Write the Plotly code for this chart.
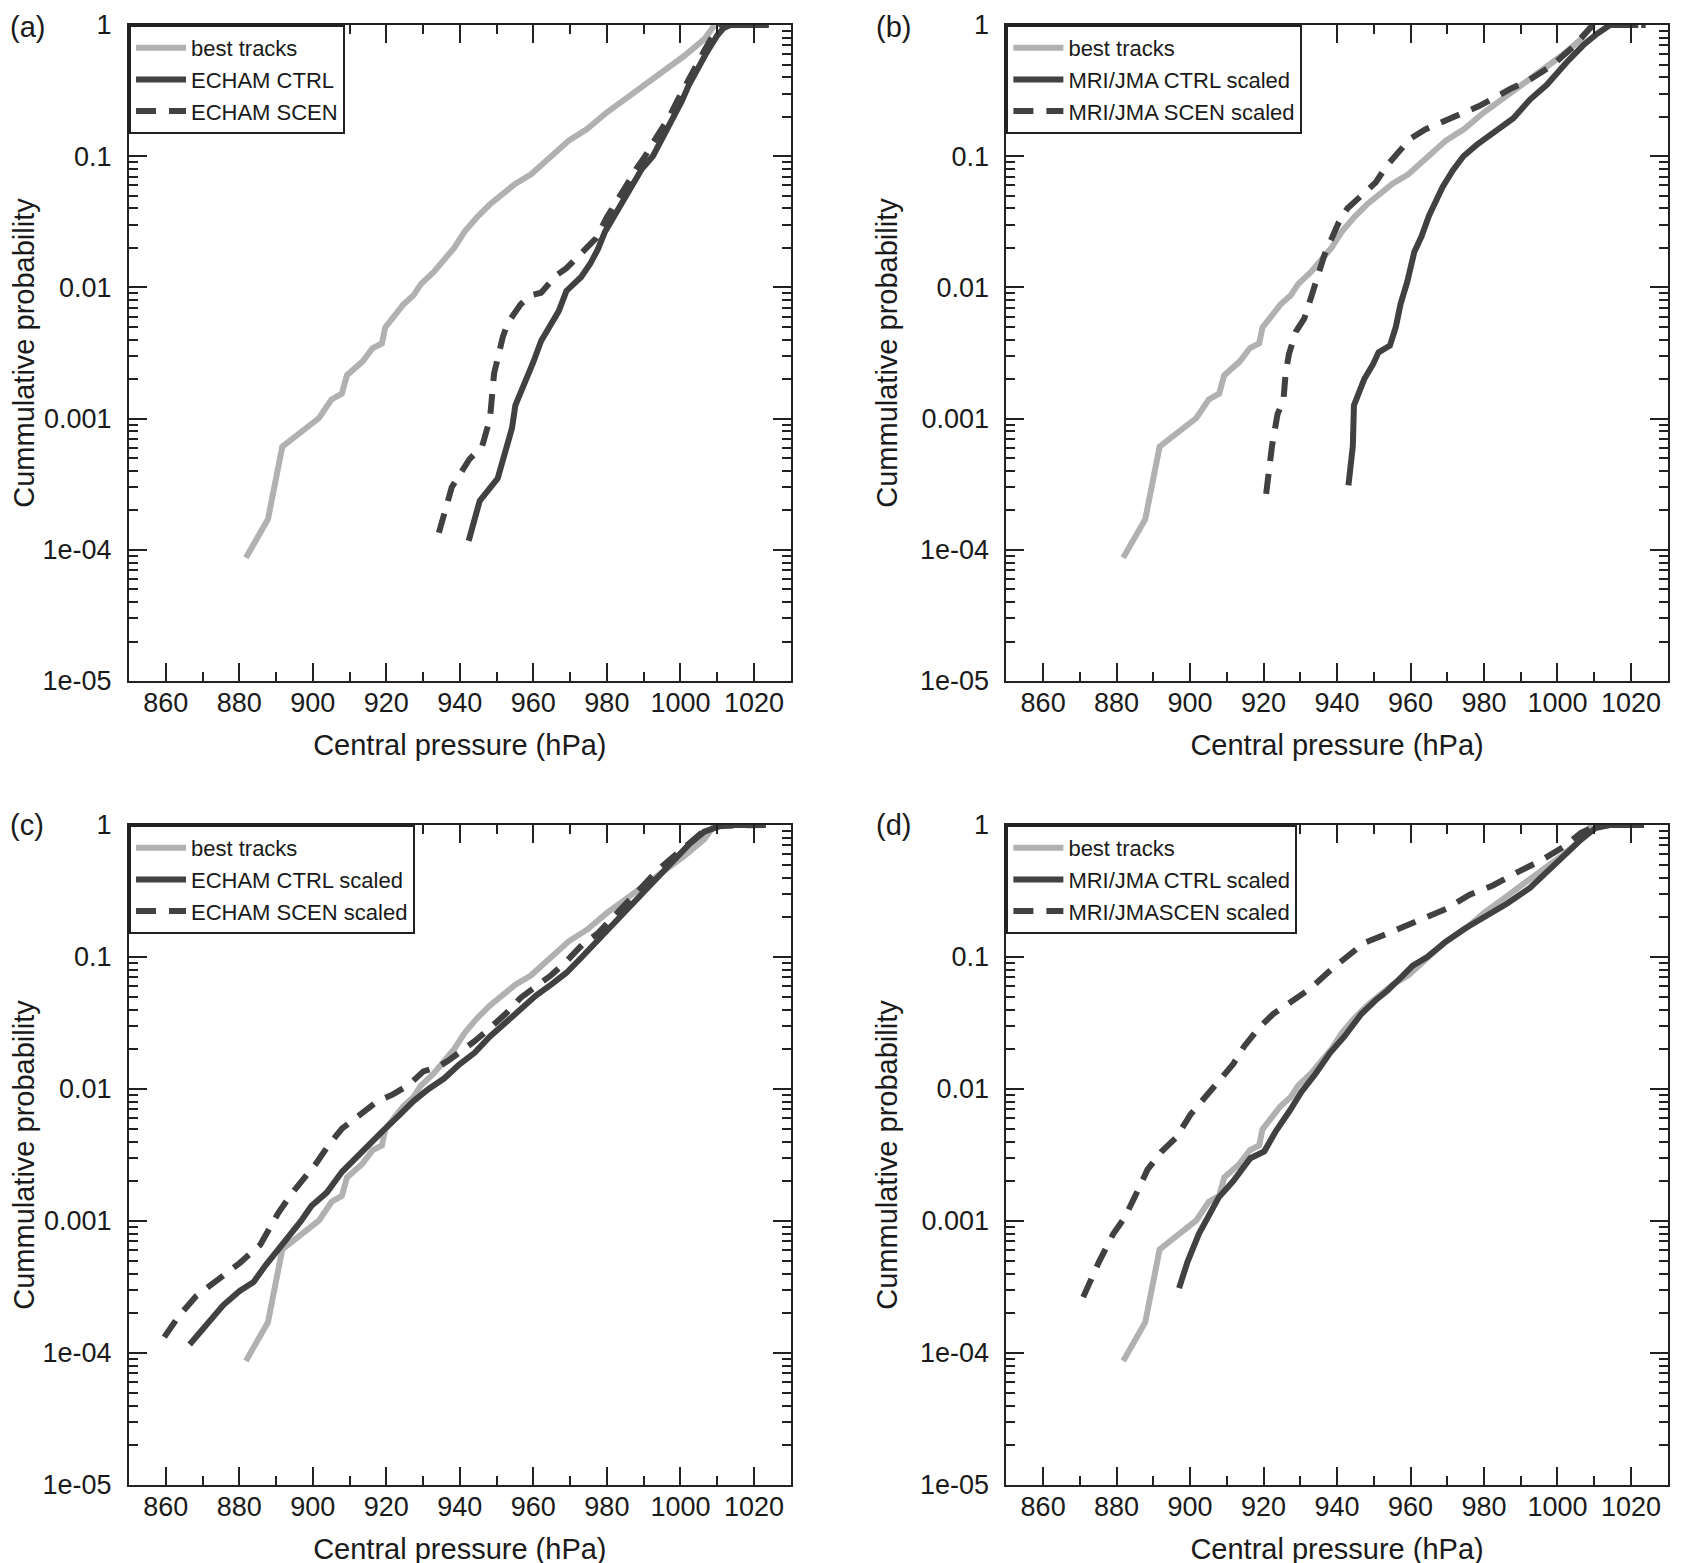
import plotly.graph_objects as go

# best tracks (same observations in every panel)
best_p = [881.8, 887.8, 891.7, 899.6, 901.7, 905.1, 907.9, 909.3, 913.5, 916.3, 918.8, 919.7,
          921.8, 924.6, 927.4, 929.4, 932.9, 935.7, 938.5, 941.3, 944.7, 948.2, 951.7, 955.1,
          959.3, 962.1, 965.6, 969.7, 974.6, 980.1, 985.7, 989.9, 995.4, 1001.0, 1006.5, 1009.3]
best_cp = [8.7e-5, 1.71e-4, 6.1e-4, 9.1e-4, 1.01e-3, 1.4e-3, 1.55e-3, 2.14e-3, 2.72e-3, 3.45e-3,
           3.74e-3, 4.95e-3, 5.8e-3, 7.4e-3, 8.7e-3, 0.0106, 0.0131, 0.0164, 0.0201, 0.0266,
           0.0344, 0.043, 0.0525, 0.0617, 0.0724, 0.085, 0.104, 0.132, 0.161, 0.217, 0.282,
           0.345, 0.438, 0.58, 0.78, 1.0]

# (a) ECHAM raw
echam_ctrl_p = [942.4, 945.4, 950.3, 952.4, 954.2, 955.1, 957.9, 960.0, 962.1, 964.2, 966.9, 969.0,
                973.0, 975.5, 977.5, 979.5, 981.8, 984.3, 986.8, 989.5, 992.5, 995.4, 998.1,
                1000.3, 1002.3, 1004.8, 1007.2, 1010.0, 1011.8, 1013.6, 1024.0]
echam_ctrl_cp = [1.17e-4, 2.36e-4, 3.5e-4, 5.7e-4, 8.5e-4, 1.26e-3, 1.9e-3, 2.7e-3, 3.9e-3, 5.0e-3,
                 6.6e-3, 9.4e-3, 0.012, 0.0152, 0.0194, 0.0266, 0.0342, 0.046, 0.061, 0.08, 0.1,
                 0.14, 0.195, 0.26, 0.348, 0.47, 0.622, 0.83, 0.95, 1.0, 1.0]
echam_scen_p = [934.3, 937.8, 942.6, 946.1, 948.2, 949.3, 951.7, 953.1, 956.5, 959.3, 962.1, 966.3,
                969.0, 974.0, 977.0, 980.0, 983.0, 985.5, 988.0, 990.4, 993.5, 996.8, 999.0,
                1001.3, 1003.8, 1006.3, 1008.8, 1011.5, 1024.0]
echam_scen_cp = [1.35e-4, 3.0e-4, 4.9e-4, 6.2e-4, 1.0e-3, 2.2e-3, 4.2e-3, 5.4e-3, 7.4e-3, 8.7e-3,
                 9.1e-3, 0.0124, 0.014, 0.0192, 0.0236, 0.0342, 0.046, 0.061, 0.08, 0.1, 0.14,
                 0.195, 0.26, 0.348, 0.47, 0.622, 0.83, 1.0, 1.0]

# (b) MRI/JMA scaled
mri_ctrl_p = [943.1, 944.3, 944.6, 945.9, 947.4, 949.8, 951.3, 954.4, 956.0, 957.3, 959.1, 961.0,
              963.0, 965.0, 968.7, 971.5, 974.4, 978.0, 981.6, 985.0, 988.0, 992.5, 997.1,
              1002.5, 1007.0, 1010.7, 1014.3, 1022.0]
mri_ctrl_cp = [3.1e-4, 6.2e-4, 1.26e-3, 1.6e-3, 2.0e-3, 2.6e-3, 3.2e-3, 3.6e-3, 5.0e-3, 7.5e-3,
               0.011, 0.0185, 0.0245, 0.035, 0.058, 0.078, 0.1, 0.122, 0.146, 0.17, 0.195, 0.27,
               0.35, 0.52, 0.70, 0.855, 1.0, 1.0]
mri_scen_p = [920.7, 922.3, 923.8, 925.4, 926.0, 926.9, 928.8, 931.1, 933.1, 934.2, 936.6, 940.4,
              942.8, 946.6, 950.5, 953.6, 956.7, 959.8, 964.0, 969.2, 973.5, 978.5, 983.0, 987.5,
              991.6, 995.5, 998.9, 1002.0, 1004.3, 1007.0, 1009.7, 1024.0]
mri_scen_cp = [2.67e-4, 6.2e-4, 1.08e-3, 1.38e-3, 2.2e-3, 3.1e-3, 4.6e-3, 5.8e-3, 8.7e-3, 0.011,
               0.0178, 0.031, 0.04, 0.05, 0.063, 0.085, 0.106, 0.135, 0.16, 0.185, 0.205, 0.24,
               0.28, 0.33, 0.37, 0.43, 0.5, 0.6, 0.68, 0.83, 1.0, 1.0]

# (c) ECHAM scaled
echam_ctrl_s_p = [866.5, 870.4, 875.6, 880.1, 883.9, 887.1, 890.6, 894.0, 896.8, 899.6, 903.8,
                  907.9, 912.1, 914.9, 919.0, 923.2, 927.4, 931.5, 935.7, 939.9, 944.0, 948.2,
                  952.4, 956.5, 960.7, 964.9, 969.0, 973.2, 977.4, 981.5, 985.7, 989.9, 994.0,
                  998.2, 1002.4, 1006.5, 1010.7, 1014.9, 1023.2]
echam_ctrl_s_cp = [1.16e-4, 1.55e-4, 2.3e-4, 2.95e-4, 3.45e-4, 4.6e-4, 6.0e-4, 7.9e-4, 1.0e-3,
                   1.3e-3, 1.64e-3, 2.35e-3, 3.1e-3, 3.8e-3, 4.8e-3, 6.2e-3, 8.1e-3, 0.01, 0.012,
                   0.0154, 0.0188, 0.025, 0.0316, 0.04, 0.051, 0.062, 0.076, 0.1, 0.133, 0.176,
                   0.233, 0.309, 0.41, 0.54, 0.715, 0.89, 0.98, 1.0, 1.0]
echam_scen_s_p = [859.6, 863.5, 868.3, 874.6, 880.1, 885.7, 887.1, 890.6, 894.0, 897.5, 901.0,
                  904.4, 907.9, 913.5, 917.6, 921.8, 926.0, 930.1, 934.3, 937.1, 940.6, 944.0,
                  948.2, 952.4, 956.5, 960.7, 964.9, 969.0, 973.2, 977.4, 981.5, 985.7, 989.9,
                  994.0, 998.2, 1002.4, 1006.5, 1010.7, 1014.9, 1023.2]
echam_scen_s_cp = [1.32e-4, 1.9e-4, 2.7e-4, 3.7e-4, 4.8e-4, 6.6e-4, 7.7e-4, 1.15e-3, 1.58e-3,
                   2.1e-3, 2.75e-3, 3.8e-3, 5.0e-3, 6.6e-3, 8.1e-3, 9.1e-3, 0.0107, 0.0136,
                   0.0148, 0.0166, 0.0195, 0.023, 0.029, 0.037, 0.049, 0.06, 0.073, 0.093, 0.123,
                   0.15, 0.2, 0.263, 0.348, 0.46, 0.585, 0.744, 0.91, 0.99, 1.0, 1.0]

# (d) MRI/JMA scaled
mri_ctrl_s_p = [897.0, 899.3, 902.4, 904.7, 907.8, 911.7, 916.4, 920.2, 923.4, 927.2, 930.3, 934.2,
                938.1, 942.0, 946.6, 950.5, 953.6, 957.5, 960.6, 964.5, 969.2, 974.6, 980.0, 986.2,
                992.5, 997.1, 1001.8, 1006.4, 1010.3, 1014.2, 1023.5]
mri_ctrl_s_cp = [3.1e-4, 4.9e-4, 8.0e-4, 1.06e-3, 1.51e-3, 2.0e-3, 2.99e-3, 3.37e-3, 4.83e-3,
                 6.9e-3, 9.5e-3, 0.0131, 0.0188, 0.025, 0.037, 0.047, 0.0553, 0.0703, 0.086, 0.1,
                 0.128, 0.163, 0.2, 0.253, 0.334, 0.442, 0.585, 0.774, 0.946, 1.0, 1.0]
mri_scen_s_p = [870.9, 875.2, 879.1, 882.2, 886.1, 888.4, 892.3, 896.2, 900.1, 903.2, 907.8, 911.7,
                914.8, 918.7, 922.6, 927.2, 932.7, 938.9, 942.8, 947.4, 953.6, 959.8, 964.5, 969.9,
                976.1, 982.4, 989.3, 995.6, 1001.8, 1006.4, 1010.3, 1014.2, 1023.5]
mri_scen_s_cp = [2.65e-4, 4.9e-4, 8.0e-4, 1.06e-3, 1.78e-3, 2.45e-3, 3.37e-3, 4.28e-3, 6.4e-3,
                 8.1e-3, 0.0112, 0.0154, 0.0212, 0.029, 0.037, 0.0453, 0.0576, 0.0826, 0.1, 0.128,
                 0.15, 0.176, 0.2, 0.233, 0.297, 0.348, 0.442, 0.54, 0.687, 0.873, 0.98, 1.0, 1.0]

panel_labels = ["(a)", "(b)", "(c)", "(d)"]
x_ticks = [860, 880, 900, 920, 940, 960, 980, 1000, 1020]
y_ticks = [1e-5, 1e-4, 1e-3, 1e-2, 1e-1, 1]
y_tick_text = ["1e-05", "1e-04", "0.001", "0.01", "0.1", "1"]

GRAY = "#b1b1b1"
DARK = "#414141"
FONT = "Liberation Sans"

panels = [
    (best_p, best_cp, echam_ctrl_p, echam_ctrl_cp, echam_scen_p, echam_scen_cp,
     "ECHAM CTRL", "ECHAM SCEN"),
    (best_p, best_cp, mri_ctrl_p, mri_ctrl_cp, mri_scen_p, mri_scen_cp,
     "MRI/JMA CTRL scaled", "MRI/JMA SCEN scaled"),
    (best_p, best_cp, echam_ctrl_s_p, echam_ctrl_s_cp, echam_scen_s_p, echam_scen_s_cp,
     "ECHAM CTRL scaled", "ECHAM SCEN scaled"),
    (best_p, best_cp, mri_ctrl_s_p, mri_ctrl_s_cp, mri_scen_s_p, mri_scen_s_cp,
     "MRI/JMA CTRL scaled", "MRI/JMASCEN scaled"),
]

W, H = 1694, 1563
# pixel boxes of the four panels (page body margin of 8px already taken off)
x_doms = [[121 / W, 782.7 / W], [998.4 / W, 1659.7 / W]]
y_doms = [[1 - 673 / H, 1 - 17 / H], [1 - 1477 / H, 1 - 817 / H]]
label_x = [0, 866 / W]
label_y = [1 - 19 / H, 1 - 817 / H]

fig = go.Figure()

for i, (bp, bc, cp_, cc, sp, sc, ctrl_name, scen_name) in enumerate(panels):
    n = "" if i == 0 else str(i + 1)
    leg = "legend" + n
    fig.add_trace(go.Scatter(x=bp, y=bc, mode="lines", name="best tracks",
                             line=dict(color=GRAY, width=6), xaxis="x" + n, yaxis="y" + n,
                             legend=leg))
    fig.add_trace(go.Scatter(x=cp_, y=cc, mode="lines", name=ctrl_name,
                             line=dict(color=DARK, width=6), xaxis="x" + n, yaxis="y" + n,
                             legend=leg))
    fig.add_trace(go.Scatter(x=sp, y=sc, mode="lines", name=scen_name,
                             line=dict(color=DARK, width=6, dash="20px,13px"),
                             xaxis="x" + n, yaxis="y" + n, legend=leg))

axis_common = dict(
    showline=True, linecolor="#222", linewidth=2, mirror="ticks",
    ticks="inside", ticklen=18, tickwidth=1.5, tickcolor="#222",
    showgrid=False, zeroline=False, automargin=False, ticklabeloverflow="allow",
    tickfont=dict(family=FONT, size=27, color="#1a1a1a"),
)

layout = dict(
    width=W, height=H,
    margin=dict(l=0, r=0, t=0, b=0),
    paper_bgcolor="white", plot_bgcolor="white",
    font=dict(family=FONT, color="#1a1a1a"),
    annotations=[],
)

for i in range(4):
    n = "" if i == 0 else str(i + 1)
    xd = x_doms[i % 2]
    yd = y_doms[i // 2]
    layout["xaxis" + n] = dict(
        axis_common, domain=xd, anchor="y" + n, range=[850, 1030],
        tickvals=x_ticks, ticklabelstandoff=-3,
        minor=dict(dtick=10, ticks="inside", ticklen=9, tickwidth=1.5, tickcolor="#222"),
        title=dict(text="Central pressure (hPa)", font=dict(family=FONT, size=29), standoff=17),
    )
    layout["yaxis" + n] = dict(
        axis_common, domain=yd, anchor="x" + n, type="log", range=[-5, 0],
        tickvals=y_ticks, ticktext=y_tick_text, ticklabelstandoff=10,
        minor=dict(dtick="D1", ticks="inside", ticklen=9, tickwidth=1.5, tickcolor="#222"),
        title=dict(text="Cummulative probability", font=dict(family=FONT, size=29), standoff=14),
    )
    layout["legend" + n] = dict(
        x=xd[0], y=yd[1], xanchor="left", yanchor="top", xref="paper", yref="paper",
        bgcolor="white", bordercolor="#222", borderwidth=2,
        font=dict(family=FONT, size=22, color="#1a1a1a"),
        itemwidth=50, tracegroupgap=0,
    )
    layout["annotations"].append(dict(
        text=panel_labels[i], x=label_x[i % 2], y=label_y[i // 2], xref="paper", yref="paper",
        xanchor="left", yanchor="middle", showarrow=False,
        font=dict(family=FONT, size=29, color="#1a1a1a"),
    ))

fig.update_layout(**layout)

fig.write_html("out.html")
